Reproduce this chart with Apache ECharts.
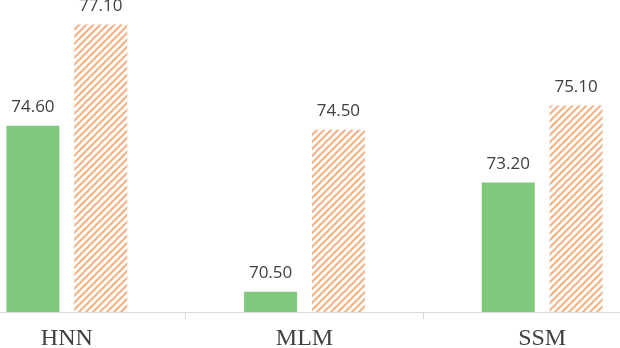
<!DOCTYPE html>
<html>
<head>
<meta charset="utf-8">
<script src="https://cdn.jsdelivr.net/npm/echarts@6/dist/echarts.min.js"></script>
<style>
  html, body { margin: 0; padding: 0; background: #fff; }
  #frame { position: relative; width: 620px; height: 348px; overflow: hidden; }
  #chart { position: absolute; left: -52px; top: -12px; width: 713px; height: 360px; }
</style>
</head>
<body>
<div id="frame"><div id="chart"></div></div>
<script>
var categories = ["HNN", "MLM", "SSM"];
var greenValues = [74.6, 70.5, 73.2];
var orangeValues = [77.1, 74.5, 75.1];

// diagonal hatch tile for the second series
function hatchPattern() {
  var c = document.createElement("canvas");
  c.width = 7;
  c.height = 7;
  var ctx = c.getContext("2d");
  ctx.fillStyle = "#ffffff";
  ctx.fillRect(0, 0, 7, 7);
  ctx.strokeStyle = "#f4b183";
  ctx.lineWidth = 2;
  ctx.beginPath();
  ctx.moveTo(-1, 8); ctx.lineTo(8, -1);
  ctx.moveTo(-1, 1); ctx.lineTo(1, -1);
  ctx.moveTo(6, 8); ctx.lineTo(8, 6);
  ctx.stroke();
  return c;
}

var chart = echarts.init(document.getElementById("chart"));

var labelStyle = {
  show: true,
  position: "top",
  distance: 10,
  color: "#404040",
  fontSize: 17,
  fontFamily: "Open Sans",
  formatter: function (p) { return p.value.toFixed(2); }
};

var option = {
  animation: false,
  grid: { left: 0, right: 0, top: 0, bottom: 36, containLabel: false, outerBoundsMode: "none" },
  xAxis: {
    type: "category",
    data: categories,
    axisLine: { lineStyle: { color: "#d9d9d9", width: 1 } },
    axisTick: { show: true, length: 7, lineStyle: { color: "#d9d9d9" } },
    axisLabel: {
      color: "#404040",
      fontSize: 24,
      fontFamily: "Liberation Serif",
      margin: 15
    }
  },
  yAxis: {
    type: "value",
    min: 70,
    max: 78,
    show: false,
    splitLine: { show: false }
  },
  series: [
    {
      type: "bar",
      data: greenValues,
      barWidth: 53,
      barGap: "28%",
      itemStyle: { color: "#7fc87c" },
      label: labelStyle
    },
    {
      type: "bar",
      data: orangeValues,
      barWidth: 53,
      itemStyle: { color: { image: hatchPattern(), repeat: "repeat" } },
      label: labelStyle
    }
  ]
};

chart.setOption(option);
</script>
</body>
</html>
